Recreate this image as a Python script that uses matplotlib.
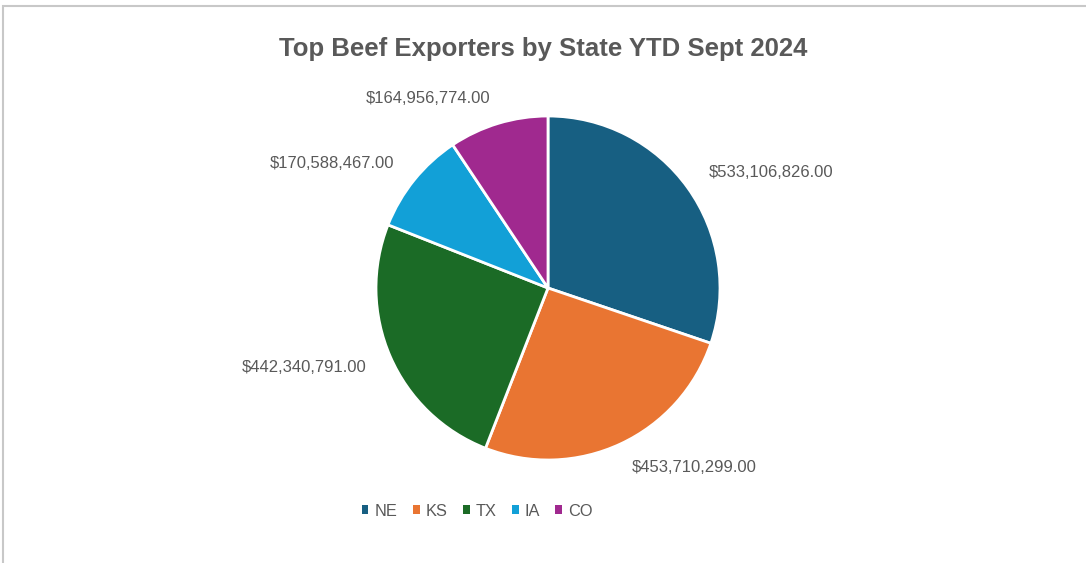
import matplotlib.pyplot as plt
from matplotlib.patches import Rectangle

plt.rcParams['font.family'] = ['Liberation Sans', 'DejaVu Sans']

# Data
states = ['NE', 'KS', 'TX', 'IA', 'CO']
exports = [533106826.00, 453710299.00, 442340791.00, 170588467.00, 164956774.00]
colors = ['#175f82', '#e97532', '#1b6b26', '#12a0d7', '#a0298f']
title = 'Top Beef Exporters by State YTD Sept 2024'

text_gray = '#595959'
W, H = 1086, 563
cx, cy, rad = 548, 288, 172  # pie centre and radius in pixels

fig = plt.figure(figsize=(W / 100, H / 100), dpi=100)
ax = fig.add_axes([0, 0, 1, 1])

labels = ['${:,.2f}'.format(v) for v in exports]
wedges, texts = ax.pie(exports, labels=labels, colors=colors, startangle=90,
                       counterclock=False, labeldistance=1.15,
                       wedgeprops=dict(edgecolor='white', linewidth=2),
                       textprops=dict(color=text_gray, fontsize=12))

# map pixels to data units (radius 1 == rad px)
ax.set_xlim(-cx / rad, (W - cx) / rad)
ax.set_ylim(-(H - cy) / rad, cy / rad)
ax.set_aspect('auto')
ax.axis('off')

fig.text(0.5, 1 - 49 / H, title, ha='center', va='center', fontsize=18.5,
         fontweight='bold', color=text_gray)

leg = fig.legend(wedges, states, loc='center', bbox_to_anchor=(477 / W, 1 - 511 / H),
                 ncol=5, frameon=False, fontsize=11.8, labelcolor=text_gray,
                 handlelength=0.42, handleheight=0.42, handletextpad=0.35,
                 columnspacing=0.95)
for p in leg.get_patches():
    p.set_edgecolor('none')

# chart frame border
fig.patches.append(Rectangle((3 / W, -0.05), 1.1, 1.05 - 6 / H,
                             transform=fig.transFigure, fill=False,
                             edgecolor='#c8c8c8', linewidth=1.5))

fig.savefig('out.png', dpi=100, facecolor='white')
